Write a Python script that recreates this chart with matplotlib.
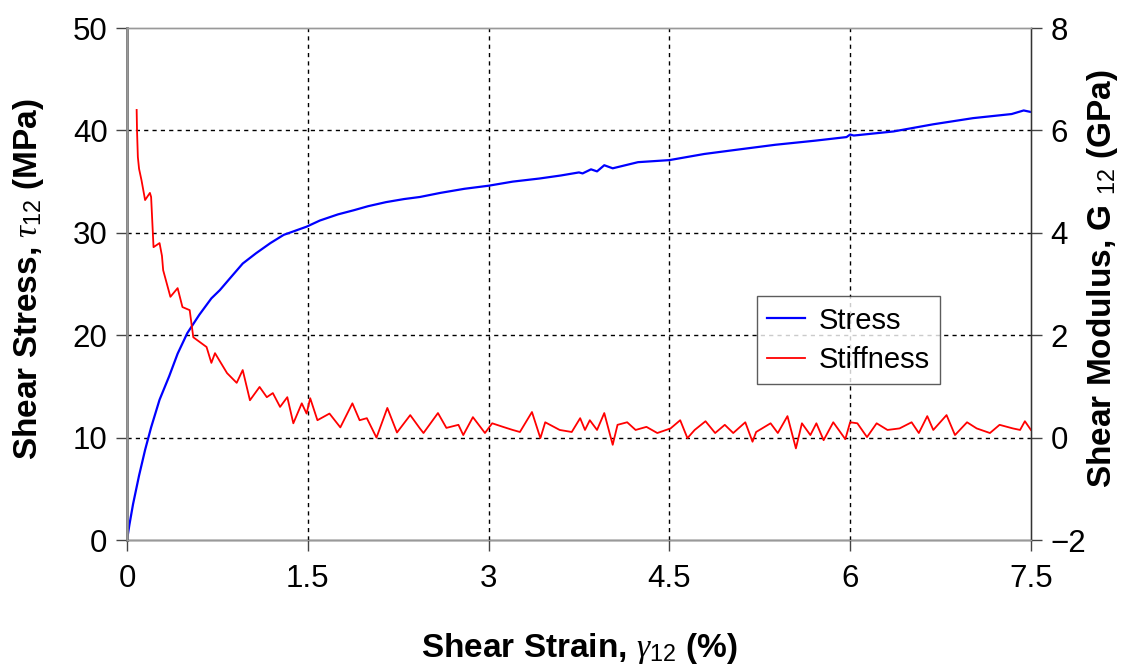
import matplotlib
matplotlib.use('Agg')
import matplotlib.pyplot as plt

plt.rcParams['font.family'] = ['Liberation Sans', 'DejaVu Sans']
plt.rcParams['mathtext.fontset'] = 'custom'
plt.rcParams['mathtext.it'] = 'Liberation Serif:italic'
plt.rcParams['mathtext.rm'] = 'Liberation Sans'

# shear stress curve (MPa) vs shear strain (%)
strain_s = [0, 0.02, 0.05, 0.1, 0.15, 0.2, 0.27, 0.35, 0.42, 0.5, 0.6, 0.7, 0.77, 0.85,
            0.96, 1.07, 1.19, 1.3, 1.49, 1.6, 1.75, 1.88, 2.0, 2.15, 2.3, 2.43, 2.6, 2.8,
            3.0, 3.2, 3.42, 3.6, 3.75, 3.78, 3.85, 3.9, 3.96, 4.03, 4.24, 4.5, 4.79, 5.05,
            5.38, 5.71, 5.97, 6.0, 6.03, 6.36, 6.69, 7.02, 7.34, 7.44, 7.5]
stress = [0, 1.5, 3.5, 6.3, 8.8, 11.0, 13.7, 16.0, 18.2, 20.2, 22.0, 23.6, 24.4, 25.5,
          27.0, 28.0, 29.0, 29.8, 30.6, 31.2, 31.8, 32.2, 32.6, 33.0, 33.3, 33.5, 33.9, 34.3,
          34.6, 35.0, 35.3, 35.6, 35.9, 35.8, 36.2, 36.0, 36.6, 36.3, 36.9, 37.1, 37.7, 38.1,
          38.6, 39.0, 39.35, 39.6, 39.5, 39.9, 40.6, 41.2, 41.6, 41.95, 41.8]

# shear modulus (GPa) vs shear strain (%)
strain_g = [0.08, 0.083, 0.09, 0.1, 0.12, 0.15, 0.19, 0.2, 0.22, 0.27, 0.29, 0.30, 0.36,
            0.42, 0.46, 0.52, 0.55, 0.66, 0.70, 0.73, 0.83, 0.91, 0.96, 1.02, 1.10, 1.16,
            1.21, 1.27, 1.33, 1.38, 1.45, 1.49, 1.52, 1.58, 1.68, 1.77, 1.87, 1.93, 1.99,
            2.07, 2.16, 2.24, 2.35, 2.43, 2.46, 2.58, 2.65, 2.75, 2.79, 2.87, 2.97, 3.03,
            3.12, 3.20, 3.26, 3.36, 3.43, 3.47, 3.59, 3.69, 3.76, 3.80, 3.84, 3.90, 3.96,
            4.03, 4.07, 4.15, 4.22, 4.31, 4.40, 4.51, 4.59, 4.65, 4.71, 4.80, 4.88, 4.96,
            5.03, 5.13, 5.19, 5.22, 5.34, 5.40, 5.48, 5.55, 5.60, 5.67, 5.72, 5.78, 5.86,
            5.96, 6.00, 6.06, 6.14, 6.22, 6.31, 6.41, 6.51, 6.57, 6.64, 6.69, 6.80, 6.87,
            6.97, 7.05, 7.16, 7.24, 7.35, 7.41, 7.45, 7.50]
modulus = [6.40, 6.0, 5.48, 5.25, 5.03, 4.64, 4.78, 4.70, 3.72, 3.80, 3.55, 3.27, 2.75,
           2.92, 2.55, 2.49, 1.96, 1.77, 1.46, 1.65, 1.26, 1.07, 1.32, 0.73, 0.99, 0.79,
           0.87, 0.60, 0.79, 0.28, 0.67, 0.47, 0.77, 0.34, 0.47, 0.20, 0.67, 0.34, 0.38,
           0.00, 0.58, 0.10, 0.44, 0.18, 0.09, 0.48, 0.19, 0.25, 0.05, 0.40, 0.09, 0.28,
           0.21, 0.15, 0.11, 0.50, -0.01, 0.30, 0.15, 0.11, 0.38, 0.15, 0.34, 0.15, 0.48,
           -0.14, 0.25, 0.30, 0.15, 0.21, 0.09, 0.18, 0.34, -0.01, 0.15, 0.32, 0.09, 0.25,
           0.09, 0.30, -0.08, 0.11, 0.28, 0.09, 0.42, -0.21, 0.28, 0.05, 0.28, -0.05, 0.30,
           -0.03, 0.30, 0.28, 0.01, 0.28, 0.15, 0.18, 0.30, 0.09, 0.42, 0.15, 0.44, 0.05,
           0.30, 0.18, 0.09, 0.25, 0.18, 0.15, 0.32, 0.15]

x_ticks = [0, 1.5, 3, 4.5, 6, 7.5]
x_ticklabels = ['0', '1.5', '3', '4.5', '6', '7.5']
left_ticks = [0, 10, 20, 30, 40, 50]
right_ticks = [-2, 0, 2, 4, 6, 8]

fig = plt.figure(figsize=(11.23, 6.64), dpi=100)
ax = fig.add_axes([0.1131, 0.1867, 0.8049, 0.7711])
ax2 = ax.twinx()

grid_style = dict(color='black', linestyle=(0, (3, 3)), linewidth=1.0, zorder=0)
for gx in x_ticks[1:-1]:
    ax.axvline(gx, **grid_style)
for gy in left_ticks[1:-1]:
    ax.axhline(gy, **grid_style)

l1, = ax.plot(strain_s, stress, color='#0000FF', linewidth=1.6, label='Stress')
l2, = ax2.plot(strain_g, modulus, color='#FF0000', linewidth=1.3, label='Stiffness')

ax.set_xlim(0, 7.5)
ax.set_ylim(0, 50)
ax2.set_ylim(-2, 8)
ax.set_xticks(x_ticks)
ax.set_xticklabels(x_ticklabels)
ax.set_yticks(left_ticks)
ax2.set_yticks(right_ticks)

for a in (ax, ax2):
    a.tick_params(direction='out', length=8, width=1, labelsize=22.5, color='#444444')
    for s in a.spines.values():
        s.set_color('#999999')
        s.set_linewidth(1.0)
ax.spines['left'].set_color('#777777')
ax.spines['left'].set_linewidth(2.0)
ax.spines['bottom'].set_color('black')
ax2.spines['right'].set_color('#333333')
ax.tick_params(axis='x', pad=9)
ax.tick_params(axis='y', pad=6)
ax2.tick_params(axis='y', pad=6)

lab = dict(fontsize=24, fontweight='bold', ha='center', va='center')
fig.text(0.516, 0.024, r'Shear Strain, $\gamma_{12}$ (%)', **lab)
fig.text(0.025, 0.58, r'Shear Stress, $\tau_{12}$ (MPa)', rotation=90, **lab)
fig.text(0.982, 0.58, r'Shear Modulus, G $_{12}$ (GPa)', rotation=90, **lab)

leg = ax2.legend(handles=[l1, l2], loc='upper left', bbox_to_anchor=(0.697, 0.476),
                 fontsize=21, frameon=True, fancybox=False, handlelength=1.3,
                 handletextpad=0.45, borderpad=0.35, labelspacing=0.4, borderaxespad=0)
leg.get_frame().set_edgecolor('#333333')
leg.get_frame().set_linewidth(1.0)

fig.savefig('out.png', dpi=100)
